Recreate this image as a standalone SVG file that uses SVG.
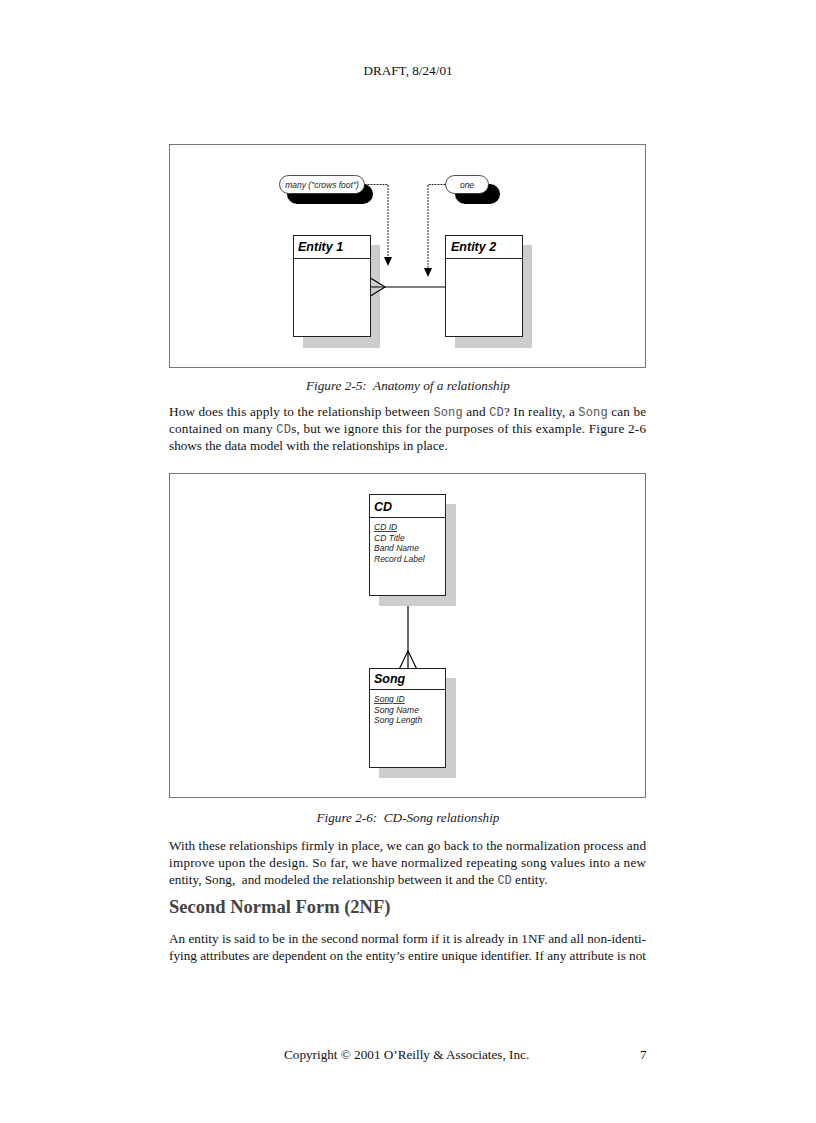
<svg xmlns="http://www.w3.org/2000/svg" width="816" height="1123" viewBox="0 0 816 1123">
<style>
.body{font-family:"Liberation Serif",serif;font-size:13.2px;fill:#111;white-space:pre}
.mono{font-family:"Liberation Mono",monospace;font-size:12px;fill:#555}
.cap{font-family:"Liberation Serif",serif;font-size:13.2px;font-style:italic;fill:#222;white-space:pre}
.frame{fill:none;stroke:#555;stroke-width:0.8}
.box{fill:#fff;stroke:#222;stroke-width:1}
.shadow{fill:#cdcdcd}
.pill{fill:#fff;stroke:#222;stroke-width:0.8}
.pillsh{fill:#000}
.ptext{font-family:"Liberation Sans",sans-serif;font-size:8.5px;font-style:italic;fill:#222}
.title{font-family:"Liberation Sans",sans-serif;font-size:12.5px;font-weight:bold;font-style:italic;fill:#000}
.attr{font-family:"Liberation Sans",sans-serif;font-size:8.5px;font-style:italic;fill:#222}
.rel{fill:none;stroke:#000;stroke-width:1.2}
.lead{fill:none;stroke:#222;stroke-width:1;stroke-dasharray:2 1}
</style>
<rect width="816" height="1123" fill="#fff"/>
<text class="body" x="408" y="75" text-anchor="middle" font-size="14">DRAFT, 8/24/01</text>

<!-- Figure 2-5 -->
<rect class="frame" x="169.5" y="144.5" width="476" height="223"/>
<g id="entity1">
<rect class="shadow" x="303" y="245" width="77" height="103"/>
<rect class="box" x="293.5" y="235.5" width="77" height="101"/>
<line x1="293.5" y1="258.5" x2="370.5" y2="258.5" stroke="#222"/>
<text class="title" x="298" y="251">Entity 1</text>
</g>
<g id="entity2">
<rect class="shadow" x="455" y="245" width="77" height="103"/>
<rect class="box" x="445.5" y="235.5" width="77" height="101"/>
<line x1="445.5" y1="258.5" x2="522.5" y2="258.5" stroke="#222"/>
<text class="title" x="451" y="251">Entity 2</text>
</g>
<g id="label-many">
<rect class="pillsh" x="287" y="184" width="86" height="20" rx="10"/>
<rect class="pill" x="279.5" y="175.5" width="85" height="18" rx="9"/>
<text class="ptext" x="322" y="187.5" text-anchor="middle">many ("crows foot")</text>
</g>
<g id="label-one">
<rect class="pillsh" x="455" y="184" width="45" height="20" rx="10"/>
<rect class="pill" x="445.5" y="175.5" width="43" height="18" rx="9"/>
<text class="ptext" x="467" y="187.5" text-anchor="middle">one</text>
</g>
<g id="connectors">
<path class="lead" d="M364.5,184.5 H388 V258"/>
<path d="M384,257 L392,257 L388,266 Z" fill="#000"/>
<path class="lead" d="M445.5,184.5 H428 V269"/>
<path d="M424,268 L432,268 L428,277 Z" fill="#000"/>
<line class="rel" x1="370.5" y1="287" x2="445.5" y2="287"/>
<path class="rel" d="M370.5,278 L385,287 L370.5,296" stroke-width="1"/>
<path class="rel" d="M408,595.5 V668.5"/>
<path class="rel" d="M399.5,668.5 L408,651 L416.5,668.5" stroke-width="1"/>
</g>
<text class="cap" x="408" y="390" text-anchor="middle">Figure 2-5:  Anatomy of a relationship</text>

<text class="body" x="169" y="416" textLength="477" lengthAdjust="spacing">How does this apply to the relationship between <tspan class="mono">Song</tspan> and <tspan class="mono">CD</tspan>? In reality, a <tspan class="mono">Song</tspan> can be</text>
<text class="body" x="169" y="433" textLength="477" lengthAdjust="spacing">contained on many <tspan class="mono">CD</tspan>s, but we ignore this for the purposes of this example. Figure 2-6</text>
<text class="body" x="169" y="450">shows the data model with the relationships in place.</text>

<!-- Figure 2-6 -->
<rect class="frame" x="169.5" y="473.5" width="476" height="324"/>
<g id="cd">
<rect class="shadow" x="379" y="504" width="77" height="102"/>
<rect class="box" x="369.5" y="494.5" width="76" height="101"/>
<line x1="369.5" y1="517.5" x2="445.5" y2="517.5" stroke="#222"/>
<text class="title" x="374" y="511" font-size="13">CD</text>
<text class="attr" x="374" y="530" text-decoration="underline">CD ID</text>
<text class="attr" x="374" y="540.5">CD Title</text>
<text class="attr" x="374" y="551">Band Name</text>
<text class="attr" x="374" y="561.5">Record Label</text>
</g>
<g id="song">
<rect class="shadow" x="379" y="678" width="77" height="100"/>
<rect class="box" x="369.5" y="668.5" width="76" height="99"/>
<line x1="369.5" y1="689.5" x2="445.5" y2="689.5" stroke="#222"/>
<text class="title" x="374" y="683" font-size="13">Song</text>
<text class="attr" x="374" y="702" text-decoration="underline">Song ID</text>
<text class="attr" x="374" y="712.5">Song Name</text>
<text class="attr" x="374" y="723">Song Length</text>
</g>
<text class="cap" x="408" y="822" text-anchor="middle">Figure 2-6:  CD-Song relationship</text>

<text class="body" x="169" y="850" textLength="477" lengthAdjust="spacing">With these relationships firmly in place, we can go back to the normalization process and</text>
<text class="body" x="169" y="867" textLength="477" lengthAdjust="spacing">improve upon the design. So far, we have normalized repeating song values into a new</text>
<text class="body" x="169" y="884">entity, Song,  and modeled the relationship between it and the <tspan class="mono">CD</tspan> entity.</text>

<text x="169" y="913" font-family="Liberation Serif,serif" font-size="18.5" font-weight="bold" fill="#444">Second Normal Form (2NF)</text>

<text class="body" x="169" y="943" textLength="477" lengthAdjust="spacing">An entity is said to be in the second normal form if it is already in 1NF and all non-identi-</text>
<text class="body" x="169" y="960" textLength="477" lengthAdjust="spacing">fying attributes are dependent on the entity’s entire unique identifier. If any attribute is not</text>

<text class="body" x="284" y="1059">Copyright © 2001 O’Reilly &amp; Associates, Inc.</text>
<text class="body" x="640" y="1059">7</text>
</svg>
